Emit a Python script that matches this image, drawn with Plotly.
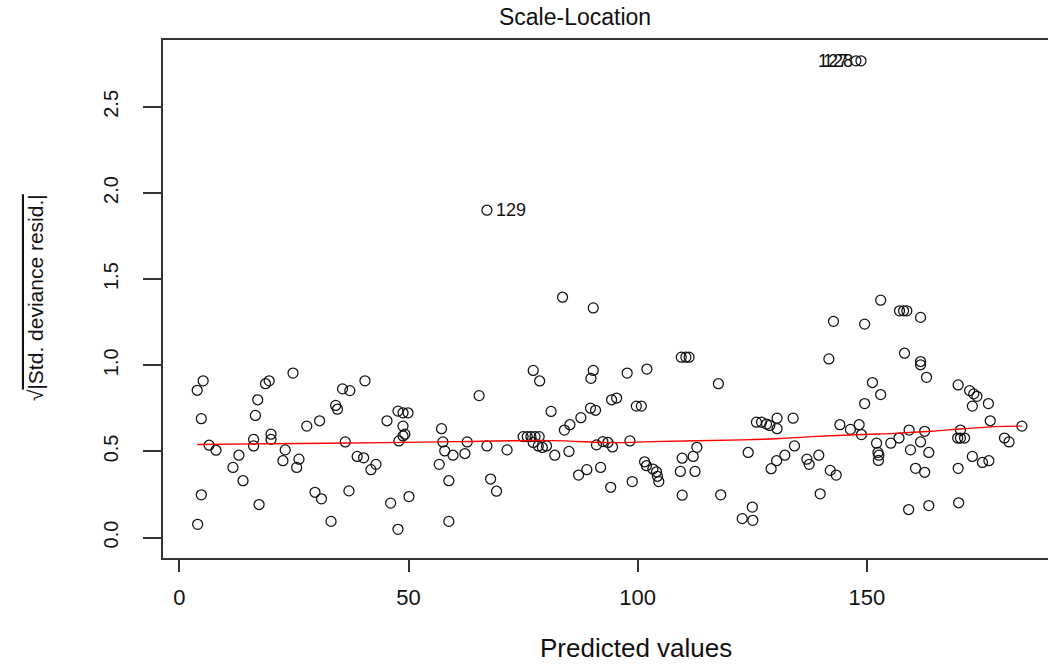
import plotly.graph_objects as go

# Predicted (fitted) values and sqrt(|std. deviance residuals|)
fitted = [5.2, 3.9, 4.8, 6.5, 8.0, 4.8, 4.0,
          24.8, 19.6, 18.8, 17.1, 16.6, 20.0, 20.0, 16.2, 16.2, 13.0, 11.7, 13.9, 17.4,
          23.1, 22.6, 26.1, 25.6, 27.8, 30.6, 35.6, 37.2, 40.5, 34.1, 34.5, 36.2, 38.8, 40.2,
          42.9, 41.8, 29.6, 31.0, 37.0, 33.1, 45.3, 46.1, 47.7,
          47.7, 48.8, 49.9, 48.8, 49.2, 48.8, 47.9, 50.1,
          57.2, 57.5, 57.9, 59.7, 62.3, 56.7, 58.8, 58.8, 62.8, 65.4, 67.1, 71.5, 67.9, 69.2,
          83.6, 90.3, 77.2, 78.6, 90.3, 89.8,
          75.0, 75.9, 76.7, 77.6, 78.5,
          77.2, 78.3, 79.2, 80.1, 81.1, 81.9, 85.0, 84.0, 85.2, 87.6, 89.7, 90.8, 87.1, 88.9,
          91.9, 94.1, 91.0, 92.4, 93.5, 94.5, 94.3, 95.4,
          97.7, 102.0, 98.3, 98.8, 99.7, 100.8, 101.5, 101.9, 103.3, 104.1, 104.3, 104.6,
          109.5, 110.5, 111.2, 109.7, 112.1, 112.9, 109.3, 112.5, 109.7, 118.1, 117.6, 124.1,
          125.0, 122.8, 125.1, 125.9, 127.0, 128.1, 128.8, 130.4, 130.4, 133.9, 129.1, 130.3,
          132.1, 134.2, 136.9, 137.4, 139.5, 139.8, 141.7, 142.7, 142.0, 143.3, 144.1,
          153.0, 157.1, 158.0, 158.7, 161.7, 149.5, 158.2, 161.7, 161.7, 163.0, 151.2, 153.0,
          149.5, 169.9, 172.4, 173.3, 174.0, 173.0, 176.5, 176.9, 183.8, 146.4, 148.3, 148.8,
          152.1, 152.4, 152.6, 152.5, 155.2, 157.0, 159.2, 159.5, 161.7, 163.5, 162.6, 160.6,
          162.6, 159.1, 163.5, 170.0, 170.4, 170.4, 171.3, 169.8, 169.9, 173.0, 175.2, 176.6,
          180.0, 181.0,
          67.1, 147.6, 148.7]
sqrt_resid = [0.91, 0.855, 0.69, 0.536, 0.507, 0.248, 0.077,
              0.955, 0.91, 0.893, 0.80, 0.709, 0.60, 0.57, 0.57, 0.532, 0.478, 0.407, 0.33, 0.192,
              0.509, 0.446, 0.455, 0.407, 0.647, 0.678, 0.863, 0.853, 0.91, 0.767, 0.745, 0.555, 0.471, 0.463,
              0.425, 0.394, 0.263, 0.225, 0.271, 0.094, 0.678, 0.20, 0.048,
              0.734, 0.724, 0.724, 0.647, 0.60, 0.59, 0.561, 0.238,
              0.632, 0.555, 0.503, 0.478, 0.488, 0.425, 0.33, 0.094, 0.555, 0.824, 0.532, 0.509, 0.34, 0.269,
              1.395, 1.333, 0.97, 0.909, 0.97, 0.924,
              0.586, 0.586, 0.586, 0.586, 0.586,
              0.552, 0.532, 0.523, 0.532, 0.732, 0.478, 0.50, 0.624, 0.655, 0.696, 0.751, 0.739, 0.363, 0.394,
              0.407, 0.292, 0.538, 0.557, 0.552, 0.526, 0.80, 0.81,
              0.955, 0.978, 0.561, 0.325, 0.763, 0.763, 0.44, 0.417, 0.398, 0.382, 0.356, 0.325,
              1.047, 1.047, 1.047, 0.461, 0.471, 0.524, 0.384, 0.384, 0.246, 0.248, 0.893, 0.494,
              0.177, 0.11, 0.10, 0.67, 0.67, 0.659, 0.651, 0.693, 0.632, 0.693, 0.40, 0.446,
              0.478, 0.532, 0.455, 0.425, 0.478, 0.254, 1.037, 1.255, 0.39, 0.363, 0.655,
              1.378, 1.316, 1.316, 1.316, 1.278, 1.239, 1.07, 1.022, 1.003, 0.93, 0.90, 0.83,
              0.778, 0.886, 0.853, 0.834, 0.82, 0.763, 0.778, 0.678, 0.647, 0.628, 0.655, 0.598,
              0.548, 0.494, 0.478, 0.448, 0.548, 0.578, 0.624, 0.509, 0.555, 0.494, 0.617, 0.402,
              0.379, 0.163, 0.186, 0.202, 0.624, 0.578, 0.578, 0.578, 0.402, 0.471, 0.436, 0.446,
              0.578, 0.555,
              1.90, 2.767, 2.767]

# Labelled extreme observations
label_ids = ["129", "127", "128"]
label_x = [67.1, 147.6, 148.7]
label_y = [1.90, 2.767, 2.767]

# Smoother (red line)
smooth_x = [3.9, 20, 45, 60, 81, 95, 103, 123, 131, 138, 149, 156, 164, 171, 178, 183.8]
smooth_y = [0.540, 0.545, 0.551, 0.557, 0.563, 0.551, 0.557, 0.567, 0.575, 0.586, 0.598,
            0.605, 0.617, 0.632, 0.644, 0.647]

x_ticks = [0, 50, 100, 150]
y_ticks = [0.0, 0.5, 1.0, 1.5, 2.0, 2.5]

FONT = "Liberation Sans, Arial, sans-serif"
AX = "#333333"

fig = go.Figure()
fig.add_trace(go.Scatter(
    x=fitted, y=sqrt_resid, mode="markers",
    marker=dict(symbol="circle-open", size=10, color="#111111", line=dict(width=1.25)),
    hoverinfo="x+y", showlegend=False))
fig.add_trace(go.Scatter(
    x=smooth_x, y=smooth_y, mode="lines",
    line=dict(color="#ff0000", width=1.4, shape="spline"),
    hoverinfo="skip", showlegend=False))

# labels: 129 to the right, 127/128 to the left
fig.add_annotation(x=label_x[0], y=label_y[0], text=label_ids[0], showarrow=False,
                   xanchor="left", yanchor="middle", xshift=7,
                   font=dict(family=FONT, size=18, color="#111111"))
for i in (1, 2):
    fig.add_annotation(x=label_x[i], y=label_y[i], text=label_ids[i], showarrow=False,
                       xanchor="right", yanchor="middle", xshift=-6,
                       font=dict(family=FONT, size=18, color="#111111"))

fig.update_layout(
    width=1048, height=665,
    margin=dict(l=163, r=0, t=40, b=107),
    paper_bgcolor="white", plot_bgcolor="white",
    font=dict(family=FONT, color="#111111"),
    title=dict(text="Scale-Location", x=0.5487, xanchor="center", y=1 - 17 / 665,
               yanchor="middle", font=dict(family=FONT, size=23, color="#111111")),
    xaxis=dict(range=[-3.56, 189.5], tickvals=x_ticks, ticktext=[str(v) for v in x_ticks],
               showgrid=False, zeroline=False, showline=True, linecolor=AX, linewidth=1.8,
               mirror=True, ticks="outside", ticklen=12, tickwidth=1.6, tickcolor=AX,
               tickfont=dict(family=FONT, size=22, color="#111111"), ticklabelstandoff=7),
    yaxis=dict(range=[-0.1185, 2.888], tickvals=y_ticks,
               ticktext=["%.1f" % v for v in y_ticks], tickangle=-90,
               showgrid=False, zeroline=False, showline=True, linecolor=AX, linewidth=1.8,
               ticks="outside", ticklen=18, tickwidth=1.6, tickcolor=AX,
               tickfont=dict(family=FONT, size=20, color="#111111"), ticklabelstandoff=17),
)

fig.add_annotation(xref="paper", yref="paper", x=0.5345, y=0, yshift=-90,
                   text="Predicted values", showarrow=False, xanchor="center", yanchor="middle",
                   font=dict(family=FONT, size=26, color="#111111"))
fig.add_annotation(xref="paper", yref="paper", x=0, xshift=-128, y=0.5017,
                   text='√<span style="text-decoration:overline">|Std. deviance resid.|</span>',
                   textangle=-90, showarrow=False, xanchor="center", yanchor="middle",
                   font=dict(family=FONT, size=21, color="#111111"))

fig.write_html("out.html")
